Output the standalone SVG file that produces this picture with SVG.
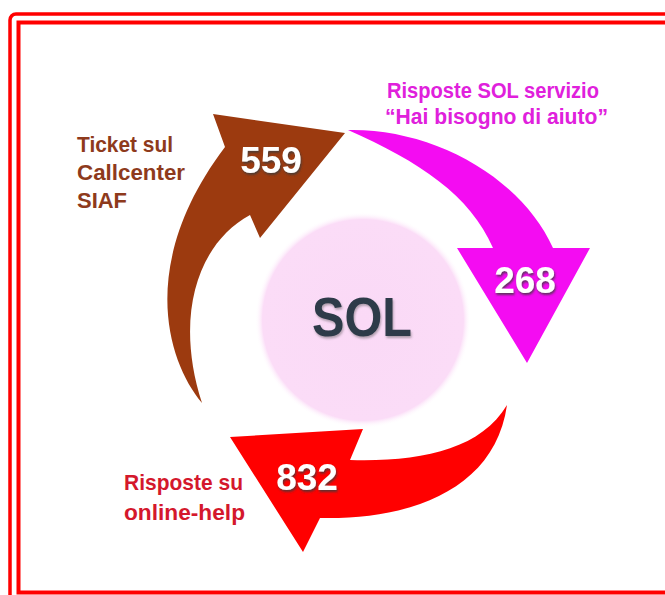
<svg xmlns="http://www.w3.org/2000/svg" width="665" height="595" viewBox="0 0 665 595">
  <defs>
    <radialGradient id="hubFill" cx="0.5" cy="0.5" r="0.5">
      <stop offset="0" stop-color="#FAD9F6"/>
      <stop offset="0.93" stop-color="#FBDCF7"/>
      <stop offset="1" stop-color="#FFFFFF" stop-opacity="0"/>
    </radialGradient>
    <filter id="numShadow" x="-20%" y="-20%" width="140%" height="150%">
      <feDropShadow dx="1" dy="2" stdDeviation="1" flood-color="#3A3A3A" flood-opacity="0.8"/>
    </filter>
    <filter id="hubShadow" x="-20%" y="-20%" width="140%" height="150%">
      <feDropShadow dx="1" dy="2" stdDeviation="1.2" flood-color="#555" flood-opacity="0.45"/>
    </filter>
    <style>
      .frame { fill: none; stroke: #FF0000; }
      .num { font-family: "Liberation Sans", Arial, sans-serif; font-weight: bold; font-size: 37px; fill: #FFFFFF; text-anchor: middle; filter: url(#numShadow); }
      .lbl { font-family: "Liberation Sans", Arial, sans-serif; font-weight: bold; font-size: 22px; }
      .hub { font-family: "Liberation Sans", Arial, sans-serif; font-weight: bold; font-size: 56px; fill: #2E3A4A; text-anchor: middle; filter: url(#hubShadow); }
    </style>
  </defs>

  <rect width="665" height="595" fill="#FFFFFF"/>

  <!-- double red border -->
  <g id="frame">
    <rect class="frame" x="10" y="14" width="700" height="620" rx="6" stroke-width="3.5"/>
    <rect class="frame" x="18.5" y="22.5" width="700" height="570" stroke-width="4"/>
  </g>

  <!-- central hub -->
  <g id="hub">
    <circle cx="363" cy="320" r="108" fill="url(#hubFill)"/>
    <text class="hub" x="362" y="336" textLength="100" lengthAdjust="spacingAndGlyphs">SOL</text>
  </g>

  <!-- curved flow arrows with their counts -->
  <g id="connectors">
    <g id="arrow-callcenter">
      <path d="M202,403 C166,360 138,262 225,147 L213,114 L345,133 L260,238 L250,215 C195,245 175,320 202,403 Z" fill="#9C3A0F"/>
      <text class="num" x="271" y="173">559</text>
    </g>
    <g id="arrow-servizio">
      <path d="M348,130 C430,128 520,175 553,248 L590,248 L527,363 L457,248 L493,248 C470,195 420,162 348,130 Z" fill="#F40CF2"/>
      <text class="num" x="525" y="293">268</text>
    </g>
    <g id="arrow-onlinehelp">
      <path d="M507,405 C480,450 420,462 350,460 L363,429 L230,437 L303,552 L320,518 C410,520 495,490 507,405 Z" fill="#FF0000"/>
      <text class="num" x="307" y="490">832</text>
    </g>
  </g>

  <!-- source labels -->
  <g id="label-callcenter" class="lbl" fill="#8E3A1C">
    <text x="77" y="152" textLength="96" lengthAdjust="spacingAndGlyphs">Ticket sul</text>
    <text x="77" y="180" textLength="108" lengthAdjust="spacingAndGlyphs">Callcenter</text>
    <text x="77" y="208" textLength="50" lengthAdjust="spacingAndGlyphs">SIAF</text>
  </g>
  <g id="label-servizio" class="lbl" fill="#E020DC">
    <text x="387" y="98" textLength="212" lengthAdjust="spacingAndGlyphs">Risposte SOL servizio</text>
    <text x="385" y="124" textLength="223" lengthAdjust="spacingAndGlyphs">“Hai bisogno di aiuto”</text>
  </g>
  <g id="label-onlinehelp" class="lbl" fill="#D4182C">
    <text x="124" y="490" textLength="119" lengthAdjust="spacingAndGlyphs">Risposte su</text>
    <text x="124" y="520" textLength="121" lengthAdjust="spacingAndGlyphs">online-help</text>
  </g>
</svg>
